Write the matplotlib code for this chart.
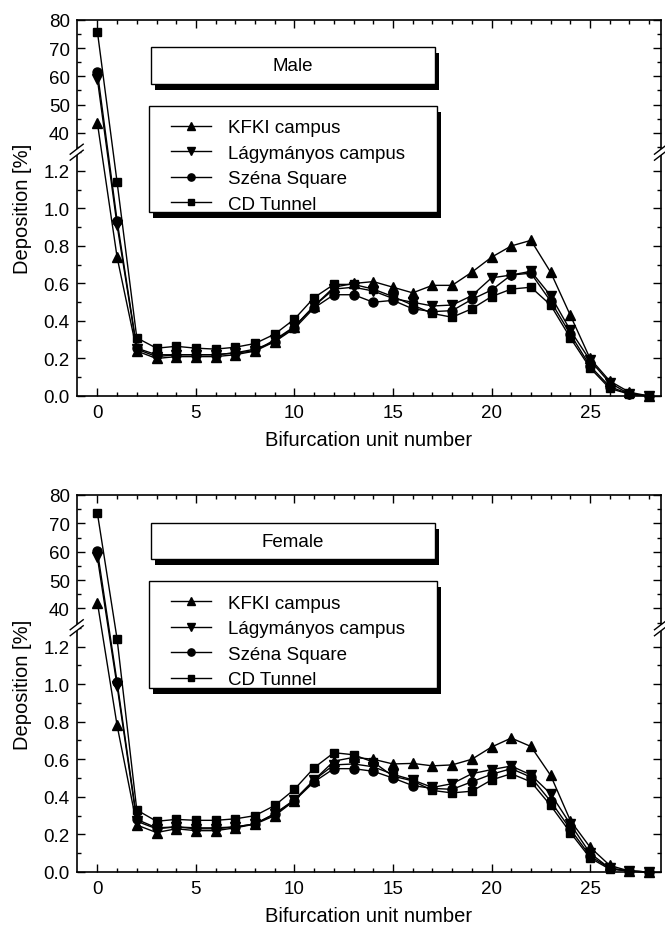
import numpy as np
import matplotlib
matplotlib.use('Agg')
import matplotlib.pyplot as plt
from matplotlib.patches import Rectangle
from matplotlib.ticker import FixedLocator, FixedFormatter

plt.rcParams['font.family'] = ['Liberation Sans', 'DejaVu Sans']

# bifurcation units 0..28
units = np.arange(0, 29)

series_names = ['KFKI campus', 'Lágymányos campus', 'Széna Square', 'CD Tunnel']
series_markers = ['^', 'v', 'o', 's']

# deposition [%] per unit, male subject
male_kfki = [43.5, 0.74, 0.24, 0.20, 0.21, 0.21, 0.21, 0.22, 0.24, 0.29, 0.37, 0.48, 0.58, 0.60, 0.61,
             0.58, 0.55, 0.59, 0.59, 0.66, 0.74, 0.80, 0.83, 0.66, 0.43, 0.20, 0.08, 0.02, 0.00]
male_lagy = [59.0, 0.91, 0.25, 0.21, 0.22, 0.22, 0.22, 0.23, 0.24, 0.30, 0.37, 0.48, 0.57, 0.58, 0.56,
             0.52, 0.50, 0.48, 0.485, 0.535, 0.63, 0.645, 0.665, 0.535, 0.35, 0.19, 0.07, 0.01, 0.00]
male_szena = [61.6, 0.935, 0.255, 0.22, 0.22, 0.22, 0.22, 0.23, 0.25, 0.29, 0.36, 0.47, 0.54, 0.54, 0.50,
              0.51, 0.465, 0.45, 0.455, 0.515, 0.565, 0.645, 0.655, 0.505, 0.33, 0.16, 0.05, 0.01, 0.00]
male_cd = [75.8, 1.14, 0.31, 0.255, 0.265, 0.255, 0.25, 0.26, 0.28, 0.33, 0.41, 0.525, 0.595, 0.595, 0.57,
           0.53, 0.485, 0.44, 0.42, 0.465, 0.53, 0.57, 0.58, 0.485, 0.31, 0.15, 0.04, 0.01, 0.00]

# deposition [%] per unit, female subject
female_kfki = [42.1, 0.78, 0.25, 0.21, 0.23, 0.22, 0.22, 0.235, 0.255, 0.30, 0.38, 0.49, 0.59, 0.61, 0.60,
               0.575, 0.578, 0.565, 0.57, 0.60, 0.665, 0.713, 0.668, 0.514, 0.274, 0.132, 0.035, 0.005, 0.00]
female_lagy = [58.0, 0.99, 0.27, 0.23, 0.24, 0.23, 0.23, 0.24, 0.256, 0.31, 0.385, 0.49, 0.57, 0.575, 0.56,
               0.52, 0.49, 0.45, 0.47, 0.523, 0.545, 0.564, 0.517, 0.416, 0.255, 0.10, 0.02, 0.005, 0.00]
female_szena = [60.3, 1.01, 0.28, 0.235, 0.24, 0.235, 0.235, 0.24, 0.256, 0.31, 0.38, 0.48, 0.55, 0.55, 0.536,
                0.50, 0.46, 0.445, 0.44, 0.48, 0.52, 0.55, 0.505, 0.376, 0.228, 0.085, 0.02, 0.005, 0.00]
female_cd = [73.6, 1.24, 0.33, 0.27, 0.28, 0.275, 0.275, 0.283, 0.30, 0.354, 0.44, 0.555, 0.635, 0.624, 0.585,
             0.51, 0.485, 0.434, 0.421, 0.43, 0.49, 0.523, 0.48, 0.354, 0.21, 0.075, 0.015, 0.005, 0.00]

panels = [('Male', [male_kfki, male_lagy, male_szena, male_cd]),
          ('Female', [female_kfki, female_lagy, female_szena, female_cd])]

# broken y axis: 0..1.3 linear, then 35..80 squeezed on top
LO_TOP, HI_BOT = 1.3, 35.0
GAP, K = 0.027, 0.0151
xp = [-10.0, LO_TOP, HI_BOT, 1000.0]
fp = [-10.0, LO_TOP, LO_TOP + GAP, LO_TOP + GAP + (1000.0 - HI_BOT) * K]


def fwd(y):
    return np.interp(y, xp, fp)


def inv(u):
    return np.interp(u, fp, xp)


major_y = [0.0, 0.2, 0.4, 0.6, 0.8, 1.0, 1.2, 40, 50, 60, 70, 80]
major_lbl = ['0.0', '0.2', '0.4', '0.6', '0.8', '1.0', '1.2', '40', '50', '60', '70', '80']
minor_y = [0.1, 0.3, 0.5, 0.7, 0.9, 1.1, 1.3, 35, 45, 55, 65, 75]

W, H = 665, 929
fig = plt.figure(figsize=(W / 100, H / 100), dpi=100)

# axes boxes in pixels: left, top, right, bottom
boxes = [(76.7, 20.7, 661, 397), (76.7, 496, 661, 873)]

for (title, data), (l, t, r, b) in zip(panels, boxes):
    ax = fig.add_axes([l / W, 1 - b / H, (r - l) / W, (b - t) / H])
    aw, ah = r - l, b - t
    ax.set_yscale('function', functions=(fwd, inv))
    ax.set_ylim(0, 80)
    ax.set_xlim(-1.05, 28.6)

    for vals, name, mk in zip(data, series_names, series_markers):
        ms = 6.0 if mk == 's' else (6.5 if mk == 'o' else 7.0)
        ax.plot(units, vals, color='black', lw=1.0, marker=mk, ms=ms,
                mfc='black', mec='black', label=name, clip_on=False, zorder=3)

    ax.yaxis.set_major_locator(FixedLocator(major_y))
    ax.yaxis.set_major_formatter(FixedFormatter(major_lbl))
    ax.yaxis.set_minor_locator(FixedLocator(minor_y))
    ax.set_xticks([0, 5, 10, 15, 20, 25])
    ax.set_xticks(np.arange(0, 29), minor=True)
    ax.tick_params(which='both', direction='in', top=True, right=True, width=1.0)
    ax.tick_params(which='major', length=6, labelsize=13.5)
    ax.tick_params(which='minor', length=3)
    ax.tick_params(axis='y', pad=5)
    ax.tick_params(axis='x', pad=6)
    for sp in ax.spines.values():
        sp.set_linewidth(1.2)

    ax.set_xlabel('Bifurcation unit number', fontsize=14.5, labelpad=6)
    ax.set_ylabel('Deposition [%]', fontsize=14.5, labelpad=8)

    # break marks on both side spines
    yb = fwd(LO_TOP + GAP / 2) / fwd(80)
    ddx, ddy, sep = 6.5 / aw, 5 / ah, 3.0 / ah
    for xs in (0.0, 1.0):
        ax.add_patch(plt.Polygon([[xs - ddx, yb - ddy - sep], [xs + ddx, yb + ddy - sep],
                                  [xs + ddx, yb + ddy + sep], [xs - ddx, yb - ddy + sep]],
                                 closed=True, transform=ax.transAxes, facecolor='white',
                                 edgecolor='none', clip_on=False, zorder=5))
        for s in (-sep, sep):
            ax.plot([xs - ddx, xs + ddx], [yb - ddy + s, yb + ddy + s], color='black',
                    lw=1.0, transform=ax.transAxes, clip_on=False, zorder=6)

    # title box with drop shadow
    ox, oy = 4 / aw, 6 / ah
    tb = (0.128, 0.829, 0.613 - 0.128, 0.9266 - 0.829)
    ax.add_patch(Rectangle((tb[0] + ox, tb[1] - oy), tb[2], tb[3], transform=ax.transAxes,
                           facecolor='black', edgecolor='none', zorder=7))
    ax.add_patch(Rectangle(tb[:2], tb[2], tb[3], transform=ax.transAxes,
                           facecolor='white', edgecolor='black', lw=1.0, zorder=8))
    ax.text(tb[0] + tb[2] / 2, tb[1] + tb[3] / 2, title, transform=ax.transAxes,
            ha='center', va='center', fontsize=13.5, zorder=9)

    # legend box with drop shadow
    lb = (0.124, 0.488, 0.617 - 0.124, 0.771 - 0.488)
    ax.add_patch(Rectangle((lb[0] + ox, lb[1] - oy), lb[2], lb[3], transform=ax.transAxes,
                           facecolor='black', edgecolor='none', zorder=7))
    ax.add_patch(Rectangle(lb[:2], lb[2], lb[3], transform=ax.transAxes,
                           facecolor='white', edgecolor='black', lw=1.0, zorder=8))
    leg = ax.legend(loc='upper left', bbox_to_anchor=(lb[0] + 0.012, lb[1] + lb[3] + 0.004),
                    frameon=False, fontsize=13.5, handlelength=2.1, handletextpad=0.95,
                    labelspacing=0.44, borderpad=0.3, markerscale=0.8)
    leg.set_zorder(10)

fig.savefig('out.png', dpi=100)
